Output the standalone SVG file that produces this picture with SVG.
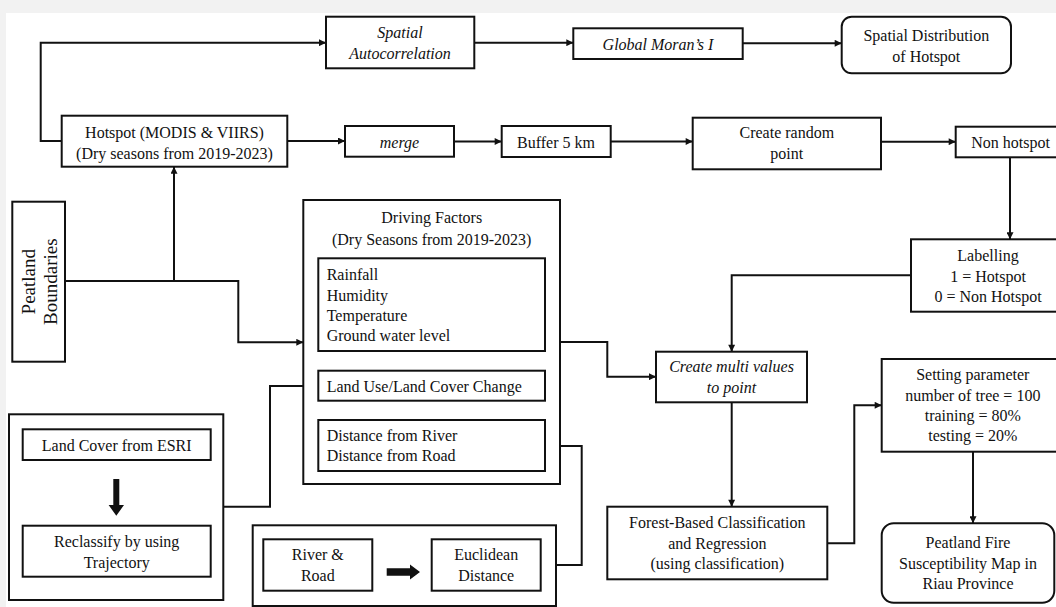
<svg xmlns="http://www.w3.org/2000/svg" width="1056" height="607" viewBox="0 0 1056 607" font-family="'Liberation Serif', 'DejaVu Serif', serif">
<defs>
<marker id="ah" viewBox="0 0 10 10" refX="10" refY="5" markerWidth="8" markerHeight="7" markerUnits="userSpaceOnUse" orient="auto">
<path d="M0,0 L10,5 L0,10 z" fill="#111"/>
</marker>
<style>
.box{fill:#fff;stroke:#111;stroke-width:2}
.c{fill:none;stroke:#111;stroke-width:2;marker-end:url(#ah)}
text{font-family:'Liberation Serif','DejaVu Serif',serif;font-size:16px;fill:#111}
.m{text-anchor:middle}
.i{font-style:italic}
</style>
</defs>
<rect x="0" y="0" width="1056" height="607" fill="#f2f2f2"/>
<rect x="6" y="13" width="1050" height="594" fill="#fff"/>

<g id="connectors">
<polyline class="c" points="61.7,141 40.7,141 40.7,42.7 326,42.7"/>
<polyline class="c" points="474.3,42.7 573.3,42.7"/>
<polyline class="c" points="742.7,43.3 841.7,43.3"/>
<polyline class="c" points="287.3,141 345,141"/>
<polyline class="c" points="454,141.5 501.7,141.5"/>
<polyline class="c" points="610.7,141.5 692.7,141.5"/>
<polyline class="c" points="881,141.7 955.7,141.7"/>
<polyline class="c" points="1010,157.3 1010,239.3"/>
<polyline class="c" points="911,275.3 731.7,275.3 731.7,351.7"/>
<polyline class="c" points="65,281 174,281 174,166.7"/>
<polyline class="c" points="174,281 238.3,281 238.3,342.3 303.3,342.3"/>
<polyline class="c" points="223.3,506.7 270,506.7 270,386 318.3,386"/>
<polyline class="c" points="556,565 581.7,565 581.7,446 545,446"/>
<polyline class="c" points="560,342 607.3,342 607.3,376.7 656,376.7"/>
<polyline class="c" points="731.7,402.3 731.7,506.7"/>
<polyline class="c" points="827.3,543.3 854.3,543.3 854.3,405.3 881.7,405.3"/>
<polyline class="c" points="973,451.7 973,523.3"/>
</g>

<g id="hotspot">
<rect class="box" x="61.7" y="115.7" width="225.6" height="51"/>
<text class="m" x="174.5" y="137.5">Hotspot (MODIS &amp; VIIRS)</text>
<text class="m" x="174.5" y="158.5">(Dry seasons from 2019-2023)</text>
</g>

<g id="spatial-autocorrelation">
<rect class="box" x="326" y="16.7" width="148.3" height="51.6"/>
<text class="m i" x="400" y="37.7">Spatial</text>
<text class="m i" x="400" y="59.3">Autocorrelation</text>
</g>

<g id="global-moran">
<rect class="box" x="573.3" y="28.3" width="169.4" height="30.7"/>
<text class="m i" x="658" y="49.5">Global Moran’s I</text>
</g>

<g id="spatial-distribution">
<rect class="box" x="841.7" y="16.7" width="169.3" height="56.6" rx="10" ry="10"/>
<text class="m" x="926.3" y="40.7">Spatial Distribution</text>
<text class="m" x="926.3" y="61.7">of Hotspot</text>
</g>

<g id="merge">
<rect class="box" x="345" y="126" width="109" height="30.7"/>
<text class="m i" x="399.5" y="148.3">merge</text>
</g>

<g id="buffer">
<rect class="box" x="501.7" y="126" width="109" height="31"/>
<text class="m" x="556" y="148.3">Buffer 5 km</text>
</g>

<g id="create-random-point">
<rect class="box" x="692.7" y="117.7" width="188.3" height="51.6"/>
<text class="m" x="786.8" y="138.3">Create random</text>
<text class="m" x="786.8" y="159.3">point</text>
</g>

<g id="non-hotspot">
<rect class="box" x="955.7" y="126.7" width="110" height="30.6"/>
<text class="m" x="1010.5" y="147.7">Non hotspot</text>
</g>

<g id="labelling">
<rect class="box" x="911" y="239.3" width="155" height="72.4"/>
<text class="m" x="988" y="261">Labelling</text>
<text class="m" x="988" y="281.5">1 = Hotspot</text>
<text class="m" x="988" y="301.7">0 = Non Hotspot</text>
</g>

<g id="peatland-boundaries">
<rect class="box" x="12.3" y="201.7" width="52.7" height="160"/>
<text class="m" style="font-size:19px" transform="translate(0,281.7) rotate(-90)"><tspan x="0" y="35">Peatland</tspan><tspan x="0" y="56.7">Boundaries</tspan></text>
</g>

<g id="driving-factors">
<rect class="box" x="303.3" y="200" width="256.7" height="284"/>
<text class="m" x="431.7" y="223.3">Driving Factors</text>
<text class="m" x="431.7" y="245">(Dry Seasons from 2019-2023)</text>
</g>

<g id="climate-factors">
<rect class="box" x="318.3" y="258.3" width="226.7" height="92.7"/>
<text x="326.7" y="280">Rainfall</text>
<text x="326.7" y="300.5">Humidity</text>
<text x="326.7" y="321">Temperature</text>
<text x="326.7" y="341">Ground water level</text>
</g>

<g id="lulc-change">
<rect class="box" x="318.3" y="370.7" width="226.7" height="30"/>
<text x="326.7" y="391.7">Land Use/Land Cover Change</text>
</g>

<g id="distance-factors">
<rect class="box" x="318.3" y="420" width="226.7" height="51"/>
<text x="326.7" y="440.7">Distance from River</text>
<text x="326.7" y="460.7">Distance from Road</text>
</g>

<g id="land-cover-group">
<rect class="box" x="9" y="414.3" width="214.3" height="185.7"/>
<polygon points="113.3,479 119.3,479 119.3,505 124,505 116.3,515.7 108.6,505 113.3,505" fill="#111"/>
</g>

<g id="land-cover-esri">
<rect class="box" x="22.7" y="429.3" width="188" height="30.7"/>
<text class="m" x="116.7" y="451">Land Cover from ESRI</text>
</g>

<g id="reclassify">
<rect class="box" x="22.7" y="525.7" width="188" height="51"/>
<text class="m" x="116.7" y="546.7">Reclassify by using</text>
<text class="m" x="116.7" y="567.7">Trajectory</text>
</g>

<g id="river-road-group">
<rect class="box" x="252.7" y="525.3" width="303.3" height="80.7"/>
<polygon points="386.7,568.3 410,568.3 410,564.5 420,572 410,579.5 410,575.7 386.7,575.7" fill="#111"/>
</g>

<g id="river-road">
<rect class="box" x="263.3" y="539.3" width="109" height="51.4"/>
<text class="m" x="317.8" y="560">River &amp;</text>
<text class="m" x="317.8" y="580.5">Road</text>
</g>

<g id="euclidean-distance">
<rect class="box" x="431.7" y="539.3" width="109" height="51.4"/>
<text class="m" x="486.2" y="560">Euclidean</text>
<text class="m" x="486.2" y="580.5">Distance</text>
</g>

<g id="create-multi-values">
<rect class="box" x="656" y="351.7" width="151" height="50.6"/>
<text class="m i" x="731.5" y="371.7">Create multi values</text>
<text class="m i" x="731.5" y="392.7">to point</text>
</g>

<g id="forest-based">
<rect class="box" x="607.3" y="506.7" width="220" height="72.6"/>
<text class="m" x="717.3" y="528.3">Forest-Based Classification</text>
<text class="m" x="717.3" y="549">and Regression</text>
<text class="m" x="717.3" y="569.3">(using classification)</text>
</g>

<g id="setting-parameter">
<rect class="box" x="881.7" y="359" width="183" height="92.7"/>
<text class="m" x="972.8" y="380">Setting parameter</text>
<text class="m" x="972.8" y="400.7">number of tree = 100</text>
<text class="m" x="972.8" y="421">training = 80%</text>
<text class="m" x="972.8" y="441">testing = 20%</text>
</g>

<g id="susceptibility-map">
<rect class="box" x="881.7" y="523.3" width="172.6" height="79.4" rx="12" ry="12"/>
<text class="m" x="968" y="548.3">Peatland Fire</text>
<text class="m" x="968" y="569.3">Susceptibility Map in</text>
<text class="m" x="968" y="589.3">Riau Province</text>
</g>
</svg>
